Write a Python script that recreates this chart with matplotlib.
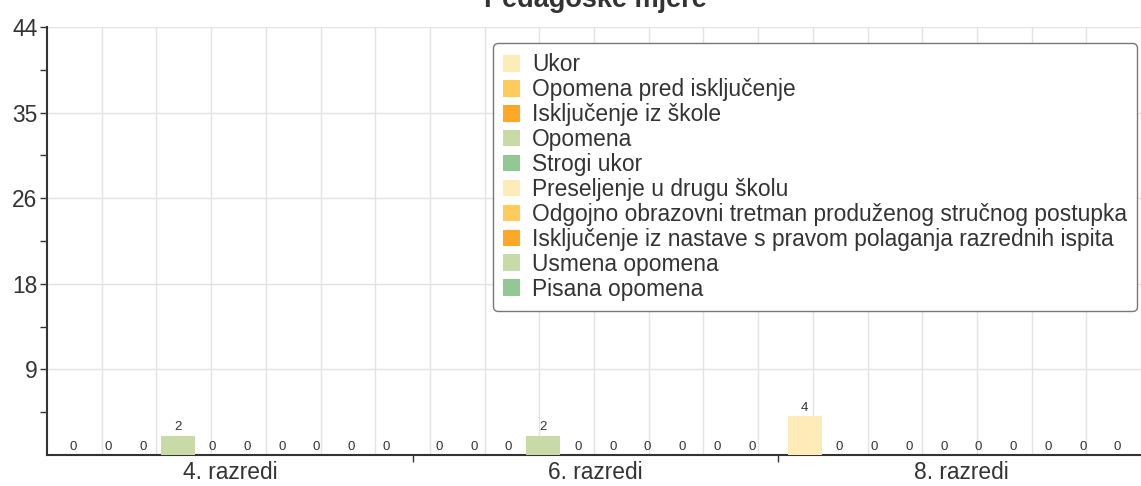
import numpy as np
import matplotlib
matplotlib.use("Agg")
import matplotlib.pyplot as plt
from matplotlib.ticker import FixedLocator, FixedFormatter

plt.rcParams["font.family"] = ["Liberation Sans", "DejaVu Sans"]

groups = ["4. razredi", "6. razredi", "8. razredi"]
series = [
    "Ukor",
    "Opomena pred isključenje",
    "Isključenje iz škole",
    "Opomena",
    "Strogi ukor",
    "Preseljenje u drugu školu",
    "Odgojno obrazovni tretman produženog stručnog postupka",
    "Isključenje iz nastave s pravom polaganja razrednih ispita",
    "Usmena opomena",
    "Pisana opomena",
]
# values per series, one per group
values = [
    [0, 0, 4],
    [0, 0, 0],
    [0, 0, 0],
    [2, 2, 0],
    [0, 0, 0],
    [0, 0, 0],
    [0, 0, 0],
    [0, 0, 0],
    [0, 0, 0],
    [0, 0, 0],
]
colors = ["#ffebb8", "#ffcb5a", "#ffa726", "#c8dba6", "#93c893",
          "#ffebb8", "#ffcb5a", "#ffa726", "#c8dba6", "#93c893"]

ymax = 44
yticks = [8.8, 17.6, 26.4, 35.2, 44]

fig = plt.figure(figsize=(11.41, 4.86), dpi=100)
ax = fig.add_axes([47 / 1141, 31 / 486, 1097 / 1141, 428 / 486])

x = np.arange(len(groups))
slot = 0.095
w = 0.093
n = len(series)
for j, (name, vals, c) in enumerate(zip(series, values, colors)):
    pos = x + (j - (n - 1) / 2) * slot
    bars = ax.bar(pos, vals, width=w, color=c, label=name, zorder=3)
    for b, v in zip(bars, vals):
        ax.text(b.get_x() + b.get_width() / 2, v + 0.25, str(v),
                ha="center", va="bottom", fontsize=9.5, color="#333333", zorder=4)

ax.set_xlim(-0.5, 2.5)
ax.set_ylim(0, ymax)

# grid
for y in yticks:
    ax.axhline(y, color="#e3e3e3", lw=1, zorder=1)
for k in range(1, 20):
    ax.axvline(-0.5 + k * 3 / 20 * (1094 / 1097), color="#e3e3e3", lw=1, zorder=1)

ax.yaxis.set_major_locator(FixedLocator(yticks))
ax.yaxis.set_major_formatter(FixedFormatter([str(int(round(t))) for t in yticks]))
ax.yaxis.set_minor_locator(FixedLocator([4.4, 13.2, 22.0, 30.8, 39.6]))
ax.tick_params(axis="y", which="both", length=5, width=1, color="#333333",
               labelsize=16.4, labelcolor="#333333", pad=2)

ax.set_xticks(x)
ax.set_xticklabels(groups)
ax.xaxis.set_minor_locator(FixedLocator([0.5, 1.5]))
ax.tick_params(axis="x", which="major", length=0, labelsize=16.4, labelcolor="#333333", pad=4)
ax.tick_params(axis="x", which="minor", length=5, width=1, color="#333333")

for s in ["top", "right"]:
    ax.spines[s].set_visible(False)
for s in ["left", "bottom"]:
    ax.spines[s].set_color("#333333")
    ax.spines[s].set_linewidth(1.5)

leg = ax.legend(loc="upper right", bbox_to_anchor=(1090 / 1097, (455 - 43) / 428),
                borderaxespad=0, fontsize=16.4, handlelength=0.75, handleheight=0.75,
                handletextpad=0.5, labelspacing=0.085, borderpad=0.45,
                framealpha=1, edgecolor="#777777", fancybox=True,
                labelcolor="#333333")
leg.get_frame().set_linewidth(1)
leg.set_zorder(5)

fig.text(595 / 1141, 1 - 7 / 486, "Pedagoške mjere", ha="center", va="baseline",
         fontsize=19.5, fontweight="bold", color="#333333")

fig.savefig("out.png", dpi=100)
